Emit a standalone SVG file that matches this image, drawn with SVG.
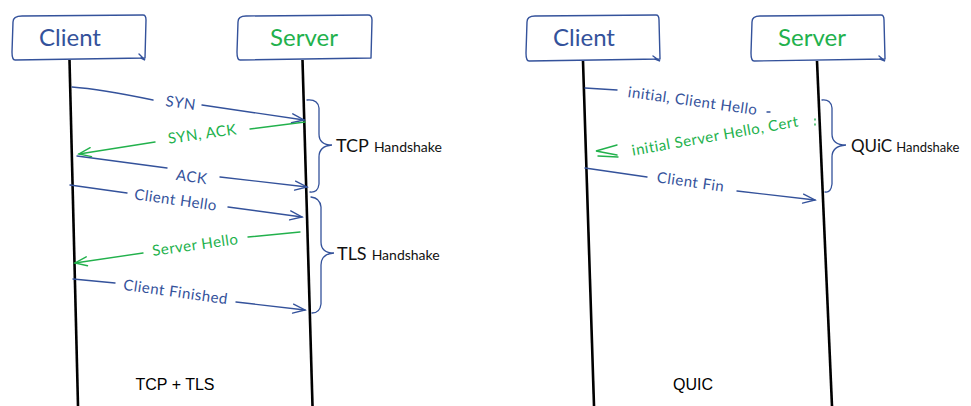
<svg xmlns="http://www.w3.org/2000/svg" width="971" height="406" viewBox="0 0 971 406">
<defs>
<style>
.box{fill:#fff;stroke:#34529b;stroke-width:1.4;stroke-linejoin:round}
.life{stroke:#000;stroke-width:2.6;fill:none}
.b{stroke:#34529b;stroke-width:1.4;fill:none;stroke-linecap:round}
.g{stroke:#22b14c;stroke-width:1.4;fill:none;stroke-linecap:round}
.br{stroke:#34529b;stroke-width:1.3;fill:none;stroke-linecap:round}
.hw{font-family:Lato,"Noto Sans",sans-serif}
.tb{fill:#34529b}
.tg{fill:#22b14c}
.head{font-size:24px}
.lbl{font-size:15px;letter-spacing:0.5px}
.hs{font-family:Lato,"Noto Sans",sans-serif;fill:#111}
.cap{font-family:"Liberation Sans",Arial,sans-serif;font-size:16px;fill:#000}
</style>
<marker id="ab" markerWidth="16" markerHeight="12" refX="13" refY="6" orient="auto" markerUnits="userSpaceOnUse"><path d="M1,1.5 L13,6 L1,10.5" fill="none" stroke="#34529b" stroke-width="1.4" stroke-linecap="round"/></marker>
<marker id="ag" markerWidth="16" markerHeight="12" refX="13" refY="6" orient="auto" markerUnits="userSpaceOnUse"><path d="M1,1.5 L13,6 L1,10.5" fill="none" stroke="#22b14c" stroke-width="1.4" stroke-linecap="round"/></marker>
</defs>
<rect width="971" height="406" fill="#fff"/>

<g id="tcp-client">
<path class="box" d="M13,22 Q13,16 22,16 L143,15 Q146,15 146,20 L145,58 L15,60 Q12,60 12,52 Z"/>
<path class="b" d="M139,54 L145,60 L141,58"/>
<text class="hw tb head" x="70" y="46" text-anchor="middle">Client</text>
<line class="life" x1="69.5" y1="60" x2="78" y2="406"/>
</g>
<g id="tcp-server">
<path class="box" d="M238,22 Q238,16 246,16 L368,15 Q372,15 372,20 L371,58 L240,60 Q237,60 237,52 Z"/>
<text class="hw tg head" x="304" y="46" text-anchor="middle">Server</text>
<line class="life" x1="302.5" y1="60" x2="312.5" y2="406"/>
</g>
<g id="quic-client">
<path class="box" d="M527,22 Q527,16 535,16 L656,15 Q659,15 659,20 L660,59 L529,61 Q526,61 526,53 Z"/>
<path class="b" d="M653,56 L660,61 L655,59"/>
<text class="hw tb head" x="584" y="46" text-anchor="middle">Client</text>
<line class="life" x1="583" y1="61" x2="594" y2="406"/>
</g>
<g id="quic-server">
<path class="box" d="M752,22 Q752,16 760,16 L881,15 Q884,15 884,20 L885,59 L754,61 Q751,61 751,53 Z"/>
<path class="b" d="M879,56 L885,61 L880,59"/>
<text class="hw tg head" x="812" y="46" text-anchor="middle">Server</text>
<line class="life" x1="817" y1="61" x2="832" y2="406"/>
</g>

<g id="connectors">
<path class="b" d="M72,87 Q100,89 153,100"/>
<path class="b" d="M202,105 L304,120" marker-end="url(#ab)"/>
<path class="g" d="M305,122 L250,129"/>
<path class="g" d="M155,142 L79,154" marker-end="url(#ag)"/>
<path class="b" d="M77,156 L167,168"/>
<path class="b" d="M220,177 L307,187" marker-end="url(#ab)"/>
<path class="b" d="M70,185 L127,193"/>
<path class="b" d="M228,207 L302,217" marker-end="url(#ab)"/>
<path class="g" d="M300,232 L248,237"/>
<path class="g" d="M143,253 L75,263" marker-end="url(#ag)"/>
<path class="b" d="M73,279 L115,283"/>
<path class="b" d="M236,302 L305,310" marker-end="url(#ab)"/>
<path class="b" d="M585,88 L617,90"/>
<path class="b" d="M767,112 L770,112"/>
<path class="g" d="M815,119 L815,120 M815,124 L815,125"/>
<path class="g" d="M617,145 L596,151 L617,155 M598,156 L618,157"/>
<path class="b" d="M585,168 L647,177"/>
<path class="b" d="M737,191 L815,200" marker-end="url(#ab)"/>
<path class="br" d="M307,100 Q318,99 319,108 L319,134 Q319,145 332,145 Q319,146 319,157 L319,184 Q318,193 310,192"/>
<path class="br" d="M311,197 Q320,198 321,207 L321,242 Q321,253 334,253 Q321,254 321,265 L321,304 Q320,313 312,313"/>
<path class="br" d="M822,100 Q831,99 832,108 L832,134 Q832,145 846,145 Q832,146 832,157 L832,184 Q831,193 825,192"/>
</g>

<g id="labels">
<text class="hw tb lbl" transform="translate(180,108) rotate(8)" text-anchor="middle">SYN</text>
<text class="hw tg lbl" transform="translate(203,139) rotate(-8)" text-anchor="middle">SYN, ACK</text>
<text class="hw tb lbl" transform="translate(191,182) rotate(8)" text-anchor="middle">ACK</text>
<text class="hw tb lbl" transform="translate(175,205) rotate(8)" text-anchor="middle">Client Hello</text>
<text class="hw tg lbl" transform="translate(196,250) rotate(-8)" text-anchor="middle">Server Hello</text>
<text class="hw tb lbl" transform="translate(175,297) rotate(8)" text-anchor="middle">Client Finished</text>
<text class="hw tb lbl" transform="translate(692,106) rotate(8)" text-anchor="middle">initial, Client Hello</text>
<text class="hw tg lbl" transform="translate(716,141) rotate(-10)" text-anchor="middle">initial Server Hello, Cert</text>
<text class="hw tb lbl" transform="translate(690,187) rotate(8)" text-anchor="middle">Client Fin</text>
<text class="hs" x="336" y="152"><tspan font-size="18">TCP</tspan><tspan font-size="14" dx="5">Handshake</tspan></text>
<text class="hs" x="337" y="260"><tspan font-size="18">TLS</tspan><tspan font-size="14" dx="5">Handshake</tspan></text>
<text class="hs" x="851" y="152"><tspan font-size="17">QUiC</tspan><tspan font-size="13" dx="4">Handshake</tspan></text>
<text class="cap" x="175" y="390" text-anchor="middle">TCP + TLS</text>
<text class="cap" x="693" y="390" text-anchor="middle">QUIC</text>
</g>
</svg>
